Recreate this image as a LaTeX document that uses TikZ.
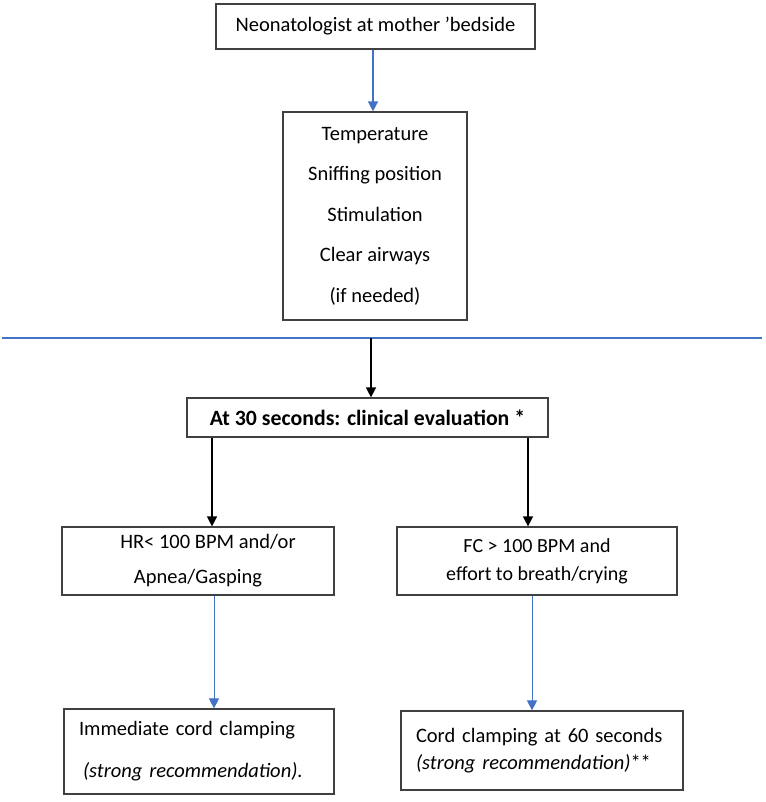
\documentclass[tikz,border=0pt]{standalone}
\usepackage{fontspec}
\setmainfont{Carlito}
\usetikzlibrary{arrows.meta,calc}
\definecolor{offblue}{HTML}{4472C4}
\definecolor{boxline}{HTML}{404040}
\tikzset{
  box/.style={draw=boxline, line width=1.2pt, inner sep=0pt, font=\fontsize{20.5}{24}\selectfont},
  bluearrow/.style={draw=offblue, line width=1.4pt, -{Triangle[width=10pt,length=10pt]}, fill=offblue},
  thinblue/.style={draw=offblue, line width=0.9pt, -{Triangle[width=10pt,length=10pt]}, fill=offblue},
  blackarrow/.style={draw=black, line width=1.4pt, -{Triangle[width=10pt,length=10pt]}},
}
\begin{document}
\begin{tikzpicture}[x=1pt,y=-1pt]
\useasboundingbox (0,0) rectangle (765,802);
\node[box, minimum width=319pt, minimum height=45pt] (b1) at (375.5,26.5) {Neonatologist at mother ’bedside};
\node[box, minimum width=184pt, minimum height=208pt, align=center, font=\fontsize{20.5}{40.5}\selectfont] (b2) at (375,216)
  {Temperature\\Sniffing position\\Stimulation\\Clear airways\\(if needed)};
\coordinate (hl1) at (2,338);
\coordinate (hl2) at (762,338);
\coordinate (hlm) at (371,338);
\draw[offblue, line width=1.4pt] (hl1) -- (hl2);
\node[box, minimum width=361pt, minimum height=39pt, font=\bfseries\fontsize{21.8}{24}\selectfont] (b3) at (367.5,417.5) {At 30 seconds: clinical evaluation *};
\node[box, minimum width=272pt, minimum height=68pt, align=center, font=\fontsize{20.5}{35}\selectfont] (hr) at (198,561) {\hspace*{20pt}HR< 100 BPM and/or\\Apnea/Gasping};
\node[box, minimum width=280pt, minimum height=68pt, align=center, font=\fontsize{20}{28}\selectfont] (fc) at (537,561) {FC > 100 BPM and\\effort to breath/crying};
\node[box, minimum width=270pt, minimum height=85pt, text width=240pt, align=left, font=\fontsize{20.5}{42}\selectfont] (imm) at (199,751.5) {Immediate cord clamping\\\hspace*{4pt}\textit{(strong recommendation).}};
\node[box, minimum width=282pt, minimum height=79pt, text width=252pt, align=left, font=\fontsize{20.5}{27}\selectfont] (cord) at (542,750.5) {Cord clamping at 60 seconds\\\textit{(strong recommendation)}**};
\draw[bluearrow] (b1.south -| 373,0) -- (b2.north -| 373,0);
\draw[blackarrow] (hlm) -- (b3.north -| hlm);
\draw[blackarrow] (b3.south -| 212,0) -- (hr.north -| 212,0);
\draw[blackarrow] (b3.south -| 528,0) -- (fc.north -| 528,0);
\draw[thinblue] (hr.south -| 214,0) -- (imm.north -| 214,0);
\draw[thinblue] (fc.south -| 532,0) -- (cord.north -| 532,0);
\end{tikzpicture}
\end{document}
